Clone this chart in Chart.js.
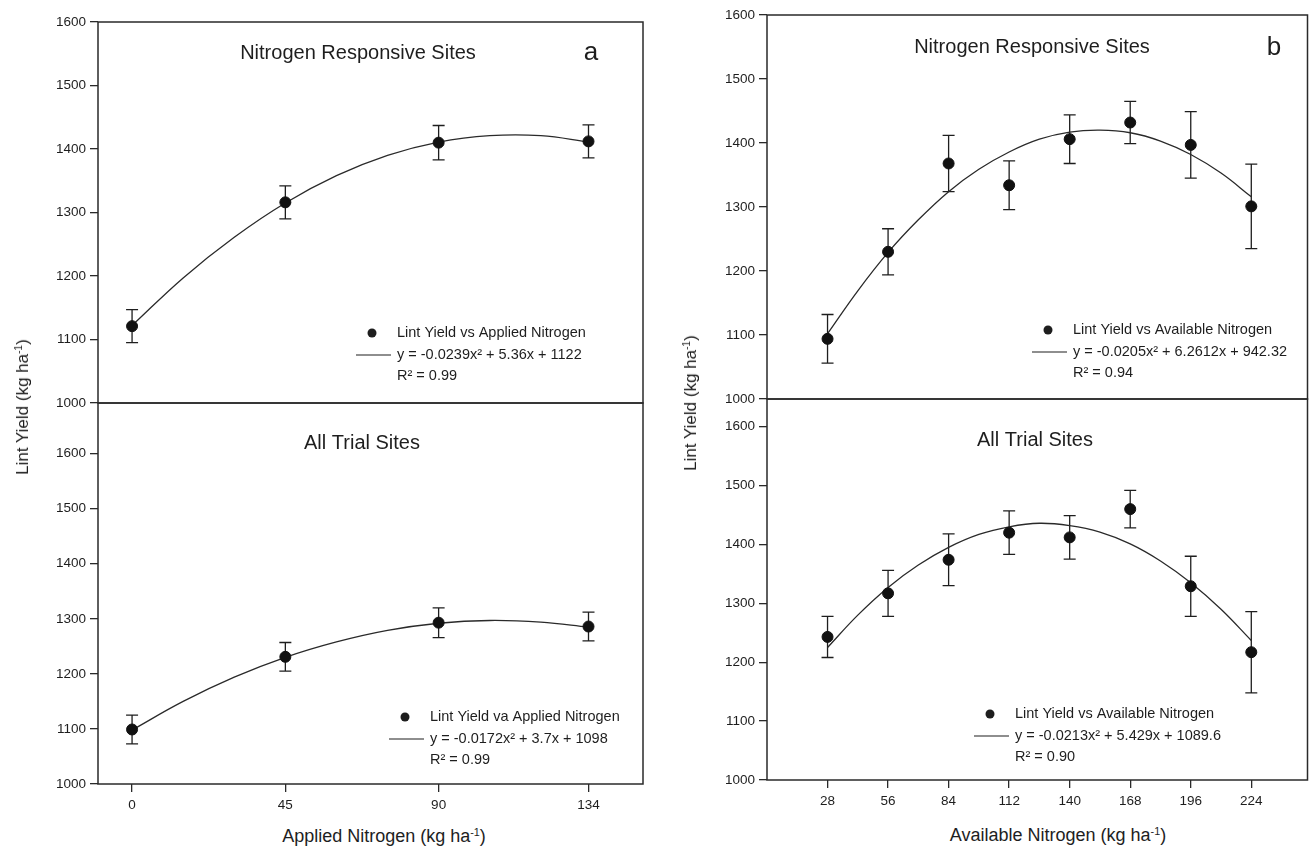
<!DOCTYPE html>
<html>
<head>
<meta charset="utf-8">
<script src="https://cdn.jsdelivr.net/npm/chart.js@4.4.1/dist/chart.umd.min.js"></script>
<style>
  html, body { margin: 0; padding: 0; background: #fff; }
  body { width: 1314px; height: 851px; position: relative; overflow: hidden;
         font-family: 'Liberation Sans', Arial, sans-serif; color: #1e1e1e; }
  canvas { position: absolute; }
  .ytitle, .xtitle { position: absolute; white-space: nowrap; font-size: 17px; }
  .ytitle { transform: translate(-50%, -50%) rotate(-90deg); }
  .xtitle { transform: translate(-50%, -50%); font-size: 18px; }
  sup { font-size: 0.6em; vertical-align: 0.55em; line-height: 0; }
</style>
</head>
<body>
<canvas id="aTop" width="660" height="419" style="left:0;top:0"></canvas>
<canvas id="aBottom" width="660" height="437" style="left:0;top:387px"></canvas>
<canvas id="bTop" width="654" height="415" style="left:660px;top:0"></canvas>
<canvas id="bBottom" width="654" height="437" style="left:660px;top:383px"></canvas>

<div class="ytitle" style="left:23px;top:407px">Lint Yield (kg ha<sup>-1</sup>)</div>
<div class="ytitle" style="left:691px;top:403px">Lint Yield (kg ha<sup>-1</sup>)</div>
<div class="xtitle" style="left:384px;top:836px">Applied Nitrogen (kg ha<sup>-1</sup>)</div>
<div class="xtitle" style="left:1058px;top:835px">Available Nitrogen (kg ha<sup>-1</sup>)</div>

<script>
// ---- data ----
const yTicks = [1000, 1100, 1200, 1300, 1400, 1500, 1600];

// panel a: applied nitrogen
const appliedN = [0, 45, 90, 134];
const yieldAppliedResp = [1121, 1316, 1410, 1412];
const errAppliedResp = [26, 26, 27, 26];
const yieldAppliedAll = [1099, 1231, 1293, 1286];
const errAppliedAll = [26, 26, 27, 26];

const fitAppliedX = [0, 15, 30, 45, 60, 75, 90, 105, 120, 134];
const fitAppliedResp = [1122, 1197, 1261, 1315, 1358, 1390, 1411, 1421, 1421, 1411];
const fitAppliedAll = [1098, 1150, 1194, 1230, 1258, 1279, 1292, 1297, 1294, 1285];

// panel b: available nitrogen
const availableN = [28, 56, 84, 112, 140, 168, 196, 224];
const yieldAvailResp = [1094, 1230, 1368, 1334, 1406, 1432, 1397, 1301];
const errAvailResp = [38, 36, 44, 38, 38, 33, 52, 66];
const yieldAvailAll = [1243, 1317, 1374, 1420, 1412, 1460, 1329, 1217];
const errAvailAll = [35, 39, 44, 37, 37, 32, 51, 69];

const fitAvailX = [28, 42, 56, 70, 84, 98, 112, 126, 140, 154, 168, 182, 196, 210, 224];
const fitAvailResp = [1102, 1169, 1229, 1280, 1324, 1359, 1386, 1406, 1417, 1420, 1416, 1403, 1382, 1353, 1316];
const fitAvailAll = [1225, 1280, 1327, 1365, 1395, 1417, 1430, 1436, 1432, 1421, 1401, 1372, 1335, 1290, 1237];

const FONT = "'Liberation Sans', Arial, sans-serif";
const INK = '#1e1e1e';

// vertical error bars, drawn under the markers
const errorBarPlugin = {
    id: 'errorBars',
    beforeDatasetsDraw(chart) {
        const { ctx, scales } = chart;
        chart.data.datasets.forEach(ds => {
            if (!ds.errors) return;
            ctx.save();
            ctx.strokeStyle = INK;
            ctx.lineWidth = 1.3;
            ds.data.forEach((p, i) => {
                const px = scales.x.getPixelForValue(p.x);
                const top = scales.y.getPixelForValue(p.y + ds.errors[i]);
                const bot = scales.y.getPixelForValue(p.y - ds.errors[i]);
                ctx.beginPath();
                ctx.moveTo(px, top); ctx.lineTo(px, bot);
                ctx.moveTo(px - 6, top); ctx.lineTo(px + 6, top);
                ctx.moveTo(px - 6, bot); ctx.lineTo(px + 6, bot);
                ctx.stroke();
            });
            ctx.restore();
        });
    }
};

// box around the plot area
const framePlugin = {
    id: 'frame',
    afterDraw(chart) {
        const { ctx, chartArea: a } = chart;
        ctx.save();
        ctx.strokeStyle = '#2a2a2a';
        ctx.lineWidth = 1.5;
        ctx.strokeRect(a.left, a.top, a.right - a.left, a.bottom - a.top);
        ctx.restore();
    }
};

// pane title, panel letter and the in-plot legend
const panelTextPlugin = {
    id: 'panelText',
    afterDraw(chart, args, opts) {
        const { ctx, chartArea: a } = chart;
        ctx.save();
        ctx.fillStyle = INK;
        ctx.textBaseline = 'middle';
        ctx.textAlign = 'center';
        ctx.font = `20px ${FONT}`;
        ctx.fillText(opts.title, a.left + opts.titleAt[0], a.top + opts.titleAt[1]);
        if (opts.letter) {
            ctx.font = `26px ${FONT}`;
            ctx.fillText(opts.letter, a.left + opts.letterAt[0], a.top + opts.letterAt[1]);
        }

        const lx = a.left + opts.legendAt[0];
        const ly = a.top + opts.legendAt[1];
        ctx.beginPath();
        ctx.arc(lx, ly, 4.5, 0, Math.PI * 2);
        ctx.fill();
        ctx.strokeStyle = INK;
        ctx.lineWidth = 1.2;
        ctx.beginPath();
        ctx.moveTo(lx - 16, ly + 22);
        ctx.lineTo(lx + 19, ly + 22);
        ctx.stroke();

        ctx.textAlign = 'left';
        ctx.font = `14.5px ${FONT}`;
        ctx.fillText(opts.legendLines[0], lx + 25, ly);
        ctx.fillText(opts.legendLines[1], lx + 25, ly + 22);
        ctx.fillText(opts.legendLines[2], lx + 25, ly + 43);
        ctx.restore();
    }
};

function toPoints(xs, ys) {
    return xs.map((x, i) => ({ x: x, y: ys[i] }));
}

function makePane(id, cfg) {
    const axisGrid = {
        drawOnChartArea: false,
        drawTicks: true,
        tickLength: 8,
        color: '#2a2a2a',
        lineWidth: 1.3
    };
    const tickFont = { family: FONT, size: 13.5 };

    return new Chart(document.getElementById(id), {
        type: 'scatter',
        data: {
            datasets: [
                {
                    type: 'line',
                    data: toPoints(cfg.fitX, cfg.fitY),
                    borderColor: '#2a2a2a',
                    borderWidth: 1.3,
                    pointRadius: 0,
                    tension: 0.4,
                    fill: false,
                    order: 2
                },
                {
                    type: 'scatter',
                    data: toPoints(cfg.xs, cfg.ys),
                    errors: cfg.errs,
                    backgroundColor: '#111',
                    borderColor: '#111',
                    pointRadius: 5.5,
                    order: 1
                }
            ]
        },
        options: {
            responsive: false,
            animation: false,
            events: [],
            layout: { padding: cfg.padding },
            plugins: {
                legend: { display: false },
                tooltip: { enabled: false },
                panelText: cfg.text
            },
            scales: {
                x: {
                    type: 'linear',
                    min: cfg.xMin,
                    max: cfg.xMax,
                    display: cfg.showX,
                    afterBuildTicks: s => { s.ticks = cfg.xTicks.map(v => ({ value: v })); },
                    afterFit: s => { s.height = cfg.showX ? 40 : 0; },
                    grid: axisGrid,
                    border: { display: false },
                    ticks: {
                        color: INK,
                        font: tickFont,
                        padding: 5,
                        autoSkip: false,
                        maxRotation: 0,
                        callback: v => String(v)
                    }
                },
                y: {
                    type: 'linear',
                    min: 1000,
                    max: cfg.yMax,
                    afterBuildTicks: s => { s.ticks = yTicks.map(v => ({ value: v })); },
                    afterFit: s => { s.width = cfg.yWidth; },
                    grid: axisGrid,
                    border: { display: false },
                    ticks: {
                        color: INK,
                        font: tickFont,
                        padding: 4,
                        autoSkip: false,
                        callback: v => String(v)
                    }
                }
            }
        },
        plugins: [errorBarPlugin, framePlugin, panelTextPlugin]
    });
}

makePane('aTop', {
    xs: appliedN, ys: yieldAppliedResp, errs: errAppliedResp,
    fitX: fitAppliedX, fitY: fitAppliedResp,
    xTicks: appliedN, xMin: -10, xMax: 150, showX: false,
    yMax: 1600, yWidth: 98,
    padding: { top: 22, right: 17, bottom: 16, left: 0 },
    text: {
        title: 'Nitrogen Responsive Sites', titleAt: [260, 31],
        letter: 'a', letterAt: [493, 31],
        legendAt: [274, 311],
        legendLines: ['Lint Yield vs Applied Nitrogen', 'y = -0.0239x\u00b2 + 5.36x + 1122', 'R\u00b2 = 0.99']
    }
});

makePane('aBottom', {
    xs: appliedN, ys: yieldAppliedAll, errs: errAppliedAll,
    fitX: fitAppliedX, fitY: fitAppliedAll,
    xTicks: appliedN, xMin: -10, xMax: 150, showX: true,
    yMax: 1692, yWidth: 98,
    padding: { top: 16, right: 17, bottom: 0, left: 0 },
    text: {
        title: 'All Trial Sites', titleAt: [264, 40],
        legendAt: [307, 314],
        legendLines: ['Lint Yield va Applied Nitrogen', 'y = -0.0172x\u00b2 + 3.7x + 1098', 'R\u00b2 = 0.99']
    }
});

makePane('bTop', {
    xs: availableN, ys: yieldAvailResp, errs: errAvailResp,
    fitX: fitAvailX, fitY: fitAvailResp,
    xTicks: availableN, xMin: 0, xMax: 250, showX: false,
    yMax: 1600, yWidth: 107,
    padding: { top: 15, right: 2, bottom: 16, left: 0 },
    text: {
        title: 'Nitrogen Responsive Sites', titleAt: [265, 32],
        letter: 'b', letterAt: [507, 33],
        legendAt: [281, 315],
        legendLines: ['Lint Yield vs Available Nitrogen', 'y = -0.0205x\u00b2 + 6.2612x + 942.32', 'R\u00b2 = 0.94']
    }
});

makePane('bBottom', {
    xs: availableN, ys: yieldAvailAll, errs: errAvailAll,
    fitX: fitAvailX, fitY: fitAvailAll,
    xTicks: availableN, xMin: 0, xMax: 250, showX: true,
    yMax: 1647, yWidth: 107,
    padding: { top: 16, right: 2, bottom: 0, left: 0 },
    text: {
        title: 'All Trial Sites', titleAt: [268, 41],
        legendAt: [223, 315],
        legendLines: ['Lint Yield vs Available Nitrogen', 'y = -0.0213x\u00b2 + 5.429x + 1089.6', 'R\u00b2 = 0.90']
    }
});
</script>
</body>
</html>
